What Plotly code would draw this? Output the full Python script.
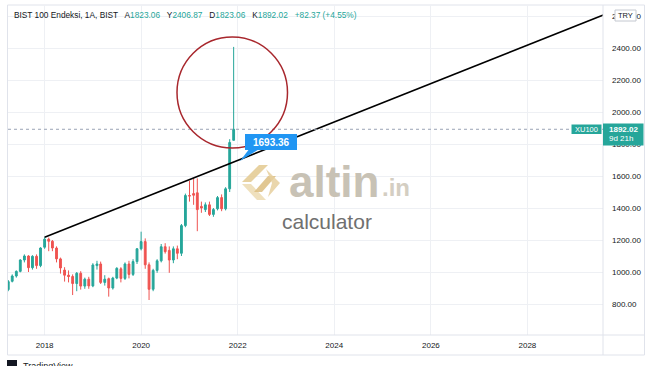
import plotly.graph_objects as go
import pandas as pd

# ---------------- data ----------------
months = pd.date_range("2017-04-01", "2021-12-01", freq="MS")
opens = [890, 942, 975, 1004, 1075, 1100, 1027, 1098, 1040, 1155,
         1205, 1192, 1150, 1082, 1012, 980, 972, 928, 992, 912,
         955, 913, 1040, 1050, 935, 958, 900, 962, 1020, 960,
         1050, 985, 1065, 1145, 1190, 1045, 892, 1010, 1070, 1158,
         1135, 1075, 1145, 1117, 1290, 1478, 1490, 1495, 1410, 1390,
         1420, 1360, 1395, 1465, 1395, 1520, 1823.06]
highs = [950, 985, 1010, 1080, 1110, 1105, 1105, 1110, 1155, 1217,
         1215, 1200, 1160, 1090, 1030, 1010, 985, 1000, 1005, 965,
         970, 1055, 1070, 1065, 980, 965, 970, 1030, 1030, 1060,
         1070, 1080, 1150, 1252, 1210, 1060, 1020, 1080, 1175, 1180,
         1160, 1160, 1165, 1300, 1490, 1570, 1585, 1585, 1440, 1435,
         1440, 1400, 1475, 1485, 1530, 1830, 2406.87]
lows = [880, 935, 965, 998, 1060, 1000, 1015, 1020, 1030, 1145,
        1130, 1130, 1060, 990, 940, 935, 856, 880, 890, 895,
        895, 905, 1015, 925, 915, 846, 890, 955, 935, 950,
        960, 975, 1050, 1135, 1020, 825, 880, 995, 1060, 1115,
        995, 1055, 1080, 1100, 1280, 1440, 1420, 1255, 1370, 1375,
        1350, 1345, 1385, 1380, 1385, 1500, 1823.06]
closes = [940, 975, 1004, 1075, 1100, 1027, 1098, 1040, 1150, 1205,
          1192, 1150, 1082, 1025, 980, 972, 928, 992, 912, 955,
          913, 1044, 1050, 935, 955, 900, 962, 1023, 960, 1050,
          985, 1065, 1145, 1190, 1045, 892, 1010, 1070, 1158, 1127,
          1075, 1145, 1117, 1290, 1478, 1475, 1480, 1390, 1400, 1420,
          1360, 1390, 1465, 1395, 1520, 1809.65, 1892.02]

trend_dates = ["2018-01-01", "2030-01-01"]
trend_values = [1217, 2658]
trend_label = "1693.36"

year_ticks = ["2018-01-01", "2020-01-01", "2022-01-01", "2024-01-01", "2026-01-01", "2028-01-01"]
year_labels = ["2018", "2020", "2022", "2024", "2026", "2028"]
price_ticks = [800, 1000, 1200, 1400, 1600, 1800, 2000, 2200, 2400, 2600]

GREEN = "#26a69a"
RED = "#ef5350"
FONT = "Liberation Sans, Arial, sans-serif"

# ---------------- helpers (pixel -> paper) ----------------
L, R, T, B = 8, 603, 5, 335
def px(x):
    return (x - L) / (R - L)
def py(y):
    return (B - y) / (B - T)
def poly(points):
    return "M " + " L ".join(f"{px(a):.5f},{py(b):.5f}" for a, b in points) + " Z"

fig = go.Figure()
fig.add_trace(go.Candlestick(
    x=months, open=opens, high=highs, low=lows, close=closes,
    increasing=dict(line=dict(color=GREEN, width=1), fillcolor=GREEN),
    decreasing=dict(line=dict(color=RED, width=1), fillcolor=RED),
    whiskerwidth=0, hoverinfo="skip", showlegend=False))
fig.add_trace(go.Scatter(
    x=trend_dates, y=trend_values, mode="lines",
    line=dict(color="#000000", width=1.6), hoverinfo="skip", showlegend=False))

last = closes[-1]
chg = closes[-1] - closes[-2]
pct = chg / closes[-2] * 100

shapes = []
frame = "#e0e3eb"
shapes.append(dict(type="rect", xref="paper", yref="paper", x0=px(7.5), x1=px(644.5), y0=py(355), y1=py(5),
                   line=dict(color=frame, width=1), layer="below"))
shapes.append(dict(type="line", xref="paper", yref="paper", x0=px(7.5), x1=px(644.5), y0=0, y1=0,
                   line=dict(color=frame, width=1)))
shapes.append(dict(type="line", xref="paper", yref="paper", x0=1, x1=1, y0=py(355), y1=py(5),
                   line=dict(color=frame, width=1)))
shapes.append(dict(type="line", xref="paper", yref="y", x0=0, x1=1, y0=last, y1=last,
                   line=dict(color="#9aa3b5", width=1, dash="dot")))
shapes.append(dict(type="circle", xref="paper", yref="paper", x0=px(177), x1=px(287.5), y0=py(148), y1=py(37),
                   line=dict(color="#a8272d", width=1.5)))
# watermark icon
shapes.append(dict(type="path", xref="paper", yref="paper", path=poly([(259, 165), (268, 165), (251, 182), (242, 182)]),
                   fillcolor="#e3c98f", line=dict(width=0), opacity=0.85))
shapes.append(dict(type="path", xref="paper", yref="paper", path=poly([(242, 184), (251, 184), (266, 200), (257, 200)]),
                   fillcolor="#ecdab2", line=dict(width=0), opacity=0.85))
shapes.append(dict(type="path", xref="paper", yref="paper", path=poly([(254, 192), (262, 192), (276, 176), (268, 176)]),
                   fillcolor="#dcbd80", line=dict(width=0), opacity=0.85))
shapes.append(dict(type="path", xref="paper", yref="paper", path=poly([(266, 169), (280, 183), (268, 197), (272, 183)]),
                   fillcolor="#e6cf9e", line=dict(width=0), opacity=0.85))
# blue trend label box + tail
shapes.append(dict(type="path", xref="paper", yref="paper", path=poly([(250, 148), (261, 148), (240, 161)]),
                   fillcolor="#2196f3", line=dict(width=0)))
shapes.append(dict(type="rect", xref="paper", yref="paper", x0=px(245), x1=px(297), y0=py(150), y1=py(134),
                   fillcolor="#2196f3", line=dict(width=0)))
# XU100 + price boxes
shapes.append(dict(type="rect", xref="paper", yref="paper", x0=px(571.5), x1=px(601.5), y0=py(134), y1=py(124.5),
                   fillcolor=GREEN, line=dict(width=0)))
shapes.append(dict(type="rect", xref="paper", yref="paper", x0=px(603), x1=px(643.5), y0=py(145.5), y1=py(123.5),
                   fillcolor=GREEN, line=dict(width=0)))
# TRY box
shapes.append(dict(type="rect", xref="paper", yref="paper", x0=px(615), x1=px(636), y0=py(21), y1=py(10),
                   fillcolor="#ffffff", line=dict(color="#c4c8d0", width=1)))
# TradingView logo mark
shapes.append(dict(type="rect", xref="paper", yref="paper", x0=px(7), x1=px(17), y0=py(367), y1=py(360),
                   fillcolor="#131722", line=dict(width=0)))

teal = f"color:{GREEN}"
header = (f"BIST 100 Endeksi, 1A, BIST&nbsp;&nbsp; A<span style='{teal}'>{opens[-1]:.2f}</span>&nbsp;&nbsp; "
          f"Y<span style='{teal}'>{highs[-1]:.2f}</span>&nbsp;&nbsp; D<span style='{teal}'>{lows[-1]:.2f}</span>&nbsp;&nbsp; "
          f"K<span style='{teal}'>{last:.2f}</span>&nbsp;&nbsp; <span style='{teal}'>+{chg:.2f} (+{pct:.2f}%)</span>")

ann = []
ann.append(dict(xref="paper", yref="paper", x=px(12), y=py(15), xanchor="left", yanchor="middle", showarrow=False,
                text=header, font=dict(family=FONT, size=8.3, color="#131722")))
ann.append(dict(xref="paper", yref="paper", x=px(287), y=py(181), xanchor="left", yanchor="middle", showarrow=False,
                text="<b>altin</b>", font=dict(family=FONT, size=44, color="#c8c2b5")))
ann.append(dict(xref="paper", yref="paper", x=px(380), y=py(187), xanchor="left", yanchor="middle", showarrow=False,
                text="<b>.in</b>", font=dict(family=FONT, size=24, color="#d4cec2")))
ann.append(dict(xref="paper", yref="paper", x=px(327), y=py(221), xanchor="center", yanchor="middle", showarrow=False,
                text="calculator", font=dict(family=FONT, size=21, color="#707070")))
ann.append(dict(xref="paper", yref="paper", x=px(271), y=py(142), xanchor="center", yanchor="middle", showarrow=False,
                text=f"<b>{trend_label}</b>", font=dict(family=FONT, size=10, color="#ffffff")))
ann.append(dict(xref="paper", yref="paper", x=px(586.5), y=py(129.3), xanchor="center", yanchor="middle", showarrow=False,
                text="XU100", font=dict(family=FONT, size=7.5, color="#ffffff")))
ann.append(dict(xref="paper", yref="paper", x=px(623), y=py(129.5), xanchor="center", yanchor="middle", showarrow=False,
                text=f"<b>{last:.2f}</b>", font=dict(family=FONT, size=8, color="#ffffff")))
ann.append(dict(xref="paper", yref="paper", x=px(621), y=py(138.5), xanchor="center", yanchor="middle", showarrow=False,
                text="9d 21h", font=dict(family=FONT, size=8, color="#ffffff")))
ann.append(dict(xref="paper", yref="paper", x=px(625.5), y=py(15.5), xanchor="center", yanchor="middle", showarrow=False,
                text="TRY", font=dict(family=FONT, size=7.5, color="#131722")))
ann.append(dict(xref="paper", yref="paper", x=px(21), y=py(359), xanchor="left", yanchor="top", showarrow=False,
                text="TradingView", font=dict(family=FONT, size=9, color="#131722")))

fig.update_layout(
    width=654, height=366,
    margin=dict(l=L, r=654 - R, t=T, b=366 - B),
    paper_bgcolor="#ffffff", plot_bgcolor="#ffffff",
    font=dict(family=FONT, size=8, color="#131722"),
    showlegend=False,
    xaxis=dict(type="date", range=["2017-03-30", "2029-07-26"], tickvals=year_ticks, ticktext=year_labels,
               showgrid=True, gridcolor="#eef0f4", gridwidth=1, zeroline=False, showline=False, ticks="",
               ticklabelstandoff=4, rangeslider=dict(visible=False), tickfont=dict(family=FONT, size=8, color="#131722")),
    yaxis=dict(side="right", range=[606.25, 2668.75], tickvals=price_ticks, tickformat=".2f",
               showgrid=True, gridcolor="#eef0f4", gridwidth=1, zeroline=False, showline=False, ticks="",
               ticklabelstandoff=8, tickfont=dict(family=FONT, size=8, color="#131722")),
    shapes=shapes, annotations=ann,
)

fig.write_html("out.html")
